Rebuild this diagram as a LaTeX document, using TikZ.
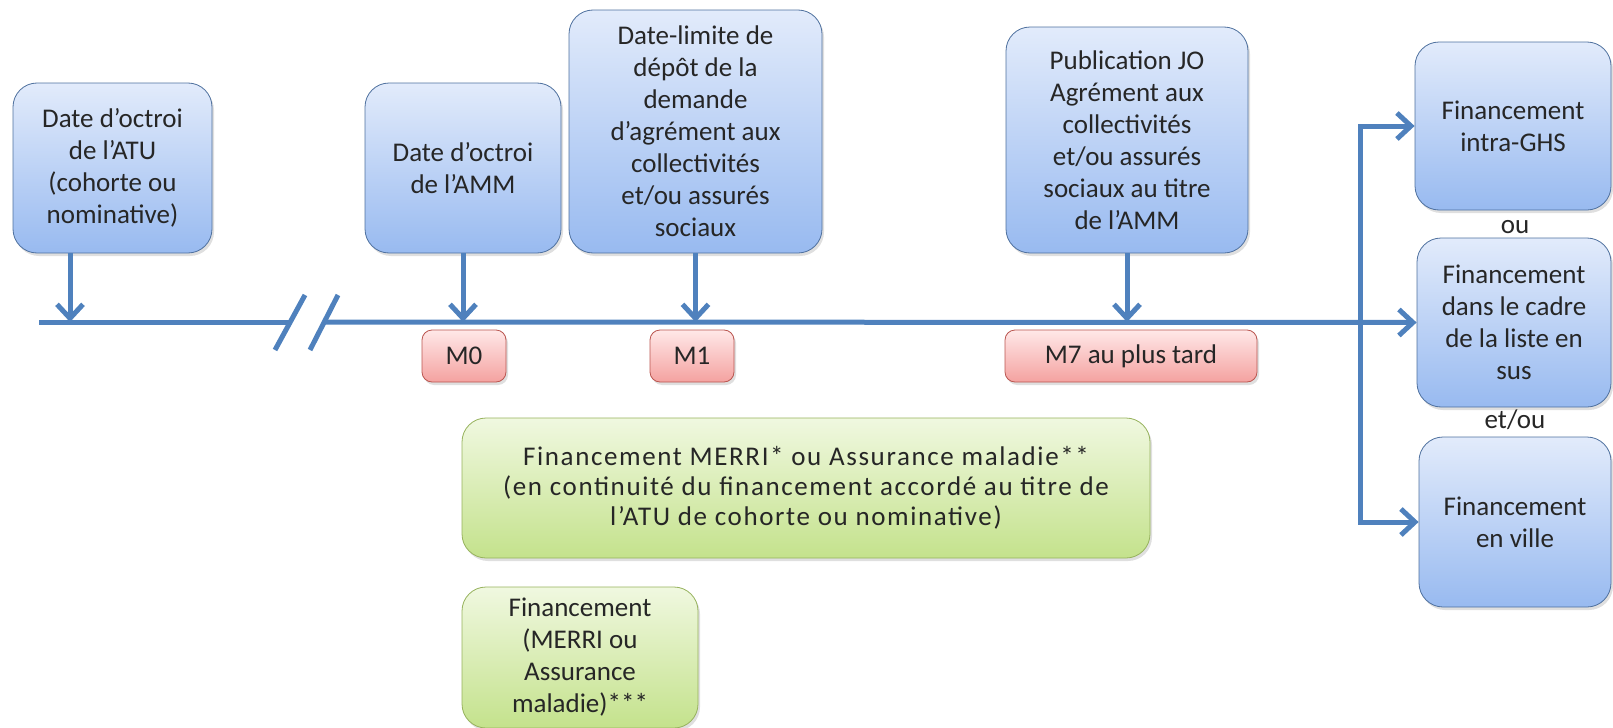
\documentclass[tikz,border=0pt]{standalone}
\usepackage{fontspec}
\setmainfont{Carlito}
\newfontfamily\espace[LetterSpace=6]{Carlito}
\usetikzlibrary{arrows.meta,shadows}
\definecolor{bleuhaut}{RGB}{226,235,251}
\definecolor{bleubas}{RGB}{152,186,240}
\definecolor{bleubord}{RGB}{78,112,158}
\definecolor{rosehaut}{RGB}{255,232,232}
\definecolor{rosebas}{RGB}{244,162,160}
\definecolor{rosebord}{RGB}{186,86,80}
\definecolor{verthaut}{RGB}{240,248,224}
\definecolor{vertbas}{RGB}{196,226,140}
\definecolor{vertbord}{RGB}{150,178,92}
\definecolor{bleufleche}{RGB}{79,129,189}
\begin{document}
\begin{tikzpicture}[x=0.5pt, y=-0.5pt,
    every node/.style = {align=center, inner sep=0pt, text=black!85,
      font=\fontsize{13.5}{16}\selectfont},
    etape/.style = {shape=rectangle, draw=bleubord, rounded corners=12pt,
      top color=bleuhaut, bottom color=bleubas,
      drop shadow={opacity=0.25, shadow xshift=1pt, shadow yshift=-1.5pt}},
    mois/.style = {shape=rectangle, draw=rosebord, rounded corners=5pt,
      top color=rosehaut, bottom color=rosebas,
      drop shadow={opacity=0.25, shadow xshift=1pt, shadow yshift=-1.5pt}},
    financ/.style = {shape=rectangle, draw=vertbord, rounded corners=12pt,
      top color=verthaut, bottom color=vertbas,
      drop shadow={opacity=0.25, shadow xshift=1pt, shadow yshift=-1.5pt}},
    ligne/.style = {draw=bleufleche, line width=2.5pt},
    fleche/.style = {ligne, -{Straight Barb[length=7pt,width=13pt]}}]
  \useasboundingbox (0,0) rectangle (1613,728);

  % dates au-dessus de l'axe
  \node[etape, minimum width=99.5pt, minimum height=85pt] (atu) at (112.5,168)
    {Date d’octroi\\ de l’ATU\\ (cohorte ou\\ nominative)};
  \node[etape, minimum width=98pt, minimum height=85pt] (amm) at (463,168)
    {Date d’octroi\\ de l’AMM};
  \node[etape, minimum width=126.5pt, minimum height=121.5pt] (depot) at (695.5,131.5)
    {Date-limite de\\ dépôt de la\\ demande\\ d’agrément aux\\ collectivités\\ et/ou assurés\\ sociaux};
  \node[etape, minimum width=121pt, minimum height=113pt] (jo) at (1127,140)
    {Publication JO\\ Agrément aux\\ collectivités\\ et/ou assurés\\ sociaux au titre\\ de l’AMM};

  % financements a droite
  \node[etape, minimum width=98pt, minimum height=84pt] (ghs) at (1513,126)
    {Financement\\ intra-GHS};
  \node (ou) at (1515,227) {ou};
  \node[etape, minimum width=97pt, minimum height=84.5pt] (liste) at (1514,322.5)
    {Financement\\ dans le cadre\\ de la liste en\\ sus};
  \node (etou) at (1515,420) {et/ou};
  \node[etape, minimum width=96pt, minimum height=85pt] (ville) at (1515,522)
    {Financement\\ en ville};

  % mois
  \node[mois, minimum width=42pt, minimum height=26pt] (m0) at (464,356) {M0};
  \node[mois, minimum width=42pt, minimum height=26pt] (m1) at (692,356) {M1};
  \node[mois, minimum width=126pt, minimum height=26pt] (m7) at (1131,356) {M7 au plus tard};

  % financements en bas
  \node[financ, minimum width=344pt, minimum height=70pt,
    font=\espace\fontsize{13.5}{15}\selectfont] (merri) at (806,488)
    {Financement MERRI* ou Assurance maladie**\\ (en continuité du financement accordé au titre de\\ l’ATU de cohorte ou nominative)};
  \node[financ, minimum width=118pt, minimum height=70.5pt] (merri2) at (580,657.5)
    {Financement\\ (MERRI ou\\ Assurance\\ maladie)***};

  % axe du temps
  \coordinate (debut) at (39,322);
  \coordinate (t0) at (70,322);
  \coordinate (coupe1) at (290,322);
  \coordinate (coupe2) at (325,322);
  \coordinate (br) at (1360,322);
  \draw[ligne] (debut) -- (coupe1);
  \draw[ligne] (275,350) -- (305,295);
  \draw[ligne] (310,350) -- (338,295);
  \draw[fleche] (coupe2) -- (liste.west);
  \draw[fleche] (t0 |- atu.south) -- (t0);
  \draw[fleche] (amm.south) -- (amm.south |- debut);
  \draw[fleche] (depot.south) -- (depot.south |- debut);
  \draw[fleche] (jo.south) -- (jo.south |- debut);
  \draw[fleche] (br) |- (ghs.west);
  \draw[fleche] (br) |- (ville.west);
\end{tikzpicture}
\end{document}
